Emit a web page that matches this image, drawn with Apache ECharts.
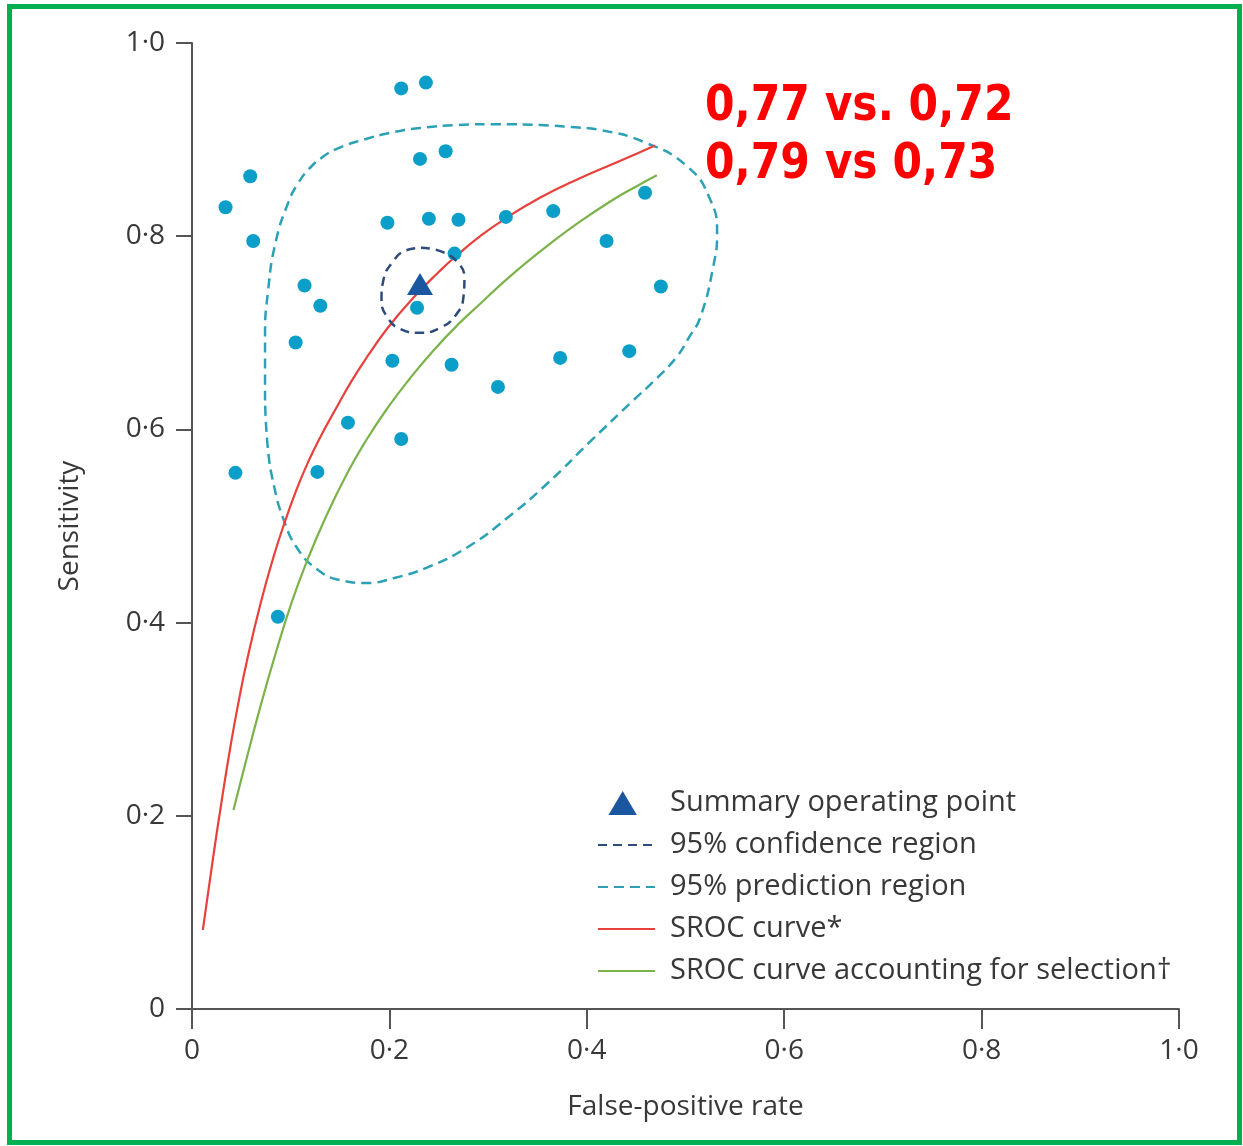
<!DOCTYPE html>
<html>
<head>
<meta charset="utf-8">
<title>SROC</title>
<script src="https://cdn.jsdelivr.net/npm/echarts@6/dist/echarts.min.js"></script>
<style>
  html, body { margin: 0; padding: 0; background: #fff; }
  #chart { width: 1243px; height: 1146px; }
</style>
</head>
<body>
<div id="chart"></div>
<script>
// individual studies
const studyFpr = [0.212, 0.237, 0.034, 0.059, 0.062, 0.231, 0.257, 0.198, 0.240, 0.270,
  0.318, 0.366, 0.459, 0.420, 0.475, 0.266, 0.228, 0.114, 0.130, 0.105,
  0.203, 0.263, 0.310, 0.373, 0.443, 0.158, 0.212, 0.044, 0.127, 0.087]
const studySens = [0.953, 0.959, 0.830, 0.862, 0.795, 0.880, 0.888, 0.814, 0.818, 0.817,
  0.820, 0.826, 0.845, 0.795, 0.748, 0.782, 0.726, 0.749, 0.728, 0.690,
  0.671, 0.667, 0.644, 0.674, 0.681, 0.607, 0.590, 0.555, 0.556, 0.406]

// summary operating point
const summaryFpr = [0.231]
const summarySens = [0.7505]

// 95% confidence region (outline)
const confFpr = [0.232, 0.253, 0.269, 0.276, 0.275, 0.267, 0.251, 0.231, 0.211, 0.198,
  0.192, 0.194, 0.203, 0.216, 0.232]
const confSens = [0.788, 0.784, 0.773, 0.757, 0.737, 0.718, 0.705, 0.700, 0.704, 0.716,
  0.734, 0.755, 0.773, 0.785, 0.788]

// 95% prediction region
const predFpr = [0.074, 0.074, 0.077, 0.085, 0.098, 0.107, 0.118, 0.131, 0.148, 0.174,
  0.201, 0.231, 0.269, 0.312, 0.353, 0.383, 0.413, 0.459, 0.502, 0.525,
  0.532, 0.528, 0.515, 0.504, 0.491, 0.470, 0.447, 0.403, 0.360, 0.319,
  0.279, 0.238, 0.204, 0.177, 0.150, 0.127, 0.106, 0.092, 0.083, 0.077, 0.074]
const predSens = [0.630, 0.696, 0.743, 0.795, 0.836, 0.854, 0.869, 0.881, 0.891, 0.900,
  0.907, 0.912, 0.915, 0.916, 0.915, 0.913, 0.910, 0.897, 0.872, 0.838,
  0.803, 0.768, 0.716, 0.696, 0.675, 0.652, 0.630, 0.587, 0.544, 0.508,
  0.478, 0.457, 0.446, 0.441, 0.444, 0.455, 0.478, 0.509, 0.542, 0.579, 0.630]

// SROC curve
const srocFpr = [0.011, 0.021, 0.030, 0.039, 0.047, 0.056, 0.069, 0.082, 0.094, 0.106,
  0.118, 0.131, 0.145, 0.161, 0.178, 0.199, 0.224, 0.251, 0.267, 0.292,
  0.317, 0.353, 0.393, 0.434, 0.469]
const srocSens = [0.082, 0.154, 0.215, 0.272, 0.317, 0.362, 0.418, 0.466, 0.504, 0.538,
  0.567, 0.594, 0.620, 0.649, 0.676, 0.706, 0.736, 0.764, 0.779, 0.800,
  0.818, 0.840, 0.860, 0.878, 0.894]

// SROC curve accounting for selection
const selFpr = [0.042, 0.054, 0.069, 0.085, 0.101, 0.117, 0.135, 0.157, 0.176, 0.198,
  0.221, 0.244, 0.269, 0.292, 0.315, 0.339, 0.360, 0.393, 0.427, 0.451, 0.471]
const selSens = [0.206, 0.254, 0.312, 0.369, 0.421, 0.465, 0.508, 0.554, 0.588, 0.622,
  0.653, 0.681, 0.708, 0.730, 0.752, 0.773, 0.790, 0.815, 0.838, 0.852, 0.863]

const tickValues = [0, 0.2, 0.4, 0.6, 0.8, 1.0]
const annotationLines = ['0,77 vs. 0,72', '0,79 vs 0,73']

const zip = (xs, ys) => xs.map((x, i) => [x, ys[i]])
const fmtTick = v => (v === 0 ? '0' : v.toFixed(1).replace('.', '·'))

const chart = echarts.init(document.getElementById('chart'))

const textColor = '#383838'
const axisColor = '#555'
const fontFamily = '"Open Sans", "Noto Sans", sans-serif'
const hideSymbol = { opacity: 0, color: 'rgba(0,0,0,0)', borderWidth: 0 }

const option = {
  animation: false,
  backgroundColor: '#fff',
  grid: {
    left: 192,
    right: 64,
    top: 43,
    bottom: 137,
    containLabel: false
  },
  xAxis: {
    type: 'value',
    min: tickValues[0],
    max: tickValues[tickValues.length - 1],
    interval: 0.2,
    name: 'False-positive rate',
    nameLocation: 'middle',
    nameGap: 84,
    nameTextStyle: { fontSize: 28, color: textColor, fontFamily },
    axisLine: { lineStyle: { color: axisColor, width: 2 } },
    axisTick: { show: true, inside: false, length: 20, lineStyle: { color: axisColor, width: 2 } },
    axisLabel: { margin: 28, fontSize: 28, color: textColor, fontFamily, formatter: fmtTick },
    splitLine: { show: false }
  },
  yAxis: {
    type: 'value',
    min: tickValues[0],
    max: tickValues[tickValues.length - 1],
    interval: 0.2,
    name: 'Sensitivity',
    nameLocation: 'middle',
    nameGap: 108,
    nameTextStyle: { fontSize: 28, color: textColor, fontFamily },
    axisLine: { lineStyle: { color: axisColor, width: 2 } },
    axisTick: { show: true, inside: false, length: 16, lineStyle: { color: axisColor, width: 2 } },
    axisLabel: { margin: 27, fontSize: 28, color: textColor, fontFamily, formatter: fmtTick },
    splitLine: { show: false }
  },
  legend: {
    orient: 'vertical',
    left: 592,
    top: 783,
    itemWidth: 57,
    itemHeight: 24,
    itemGap: 12,
    textStyle: {
      fontSize: 29,
      lineHeight: 30,
      color: textColor,
      fontFamily,
      padding: [0, 0, 0, 10]
    },
    data: [
      { name: 'Summary operating point', icon: 'path://M13,0L26,22L0,22Z M33,22L33,22' },
      { name: '95% confidence region', itemStyle: hideSymbol },
      { name: '95% prediction region', itemStyle: hideSymbol },
      { name: 'SROC curve*', itemStyle: hideSymbol },
      { name: 'SROC curve accounting for selection†', itemStyle: hideSymbol }
    ]
  },
  series: [
    {
      name: '95% prediction region',
      type: 'line',
      data: zip(predFpr, predSens),
      smooth: 0.5,
      symbol: 'none',
      showSymbol: false,
      lineStyle: { color: '#2aa1b5', width: 2.5, type: [10, 6] },
      itemStyle: { color: '#2aa1b5' },
      z: 2
    },
    {
      name: 'SROC curve*',
      type: 'line',
      data: zip(srocFpr, srocSens),
      smooth: 0.5,
      symbol: 'none',
      showSymbol: false,
      lineStyle: { color: '#e8413c', width: 2.2 },
      itemStyle: { color: '#e8413c' },
      z: 2
    },
    {
      name: 'SROC curve accounting for selection†',
      type: 'line',
      data: zip(selFpr, selSens),
      smooth: 0.5,
      symbol: 'none',
      showSymbol: false,
      lineStyle: { color: '#7bb34a', width: 2.2 },
      itemStyle: { color: '#7bb34a' },
      z: 2
    },
    {
      name: 'Studies',
      type: 'scatter',
      data: zip(studyFpr, studySens),
      symbol: 'circle',
      symbolSize: 14,
      itemStyle: { color: '#0b9ec8', opacity: 1 },
      z: 3
    },
    {
      name: '95% confidence region',
      type: 'line',
      data: zip(confFpr, confSens),
      smooth: 0.5,
      symbol: 'none',
      showSymbol: false,
      lineStyle: { color: '#2e4b7d', width: 2.5, type: [9, 6] },
      itemStyle: { color: '#2e4b7d' },
      z: 4
    },
    {
      name: 'Summary operating point',
      type: 'scatter',
      data: zip(summaryFpr, summarySens),
      symbol: 'triangle',
      symbolSize: [26, 22],
      itemStyle: { color: '#1b57a1', opacity: 1 },
      z: 5
    }
  ],
  graphic: [
    {
      type: 'rect',
      shape: { x: 9.5, y: 6.5, width: 1230, height: 1136 },
      style: { fill: 'none', stroke: '#00b050', lineWidth: 5 },
      silent: true,
      z: 100
    },
    {
      type: 'text',
      x: 705,
      y: 107,
      scaleX: 0.85,
      style: {
        text: annotationLines[0],
        fill: '#ff0000',
        font: 'bold 50px "DejaVu Sans", sans-serif',
        verticalAlign: 'middle'
      },
      z: 100
    },
    {
      type: 'text',
      x: 705,
      y: 165,
      scaleX: 0.85,
      style: {
        text: annotationLines[1],
        fill: '#ff0000',
        font: 'bold 50px "DejaVu Sans", sans-serif',
        verticalAlign: 'middle'
      },
      z: 100
    }
  ]
}

chart.setOption(option)
</script>
</body>
</html>
